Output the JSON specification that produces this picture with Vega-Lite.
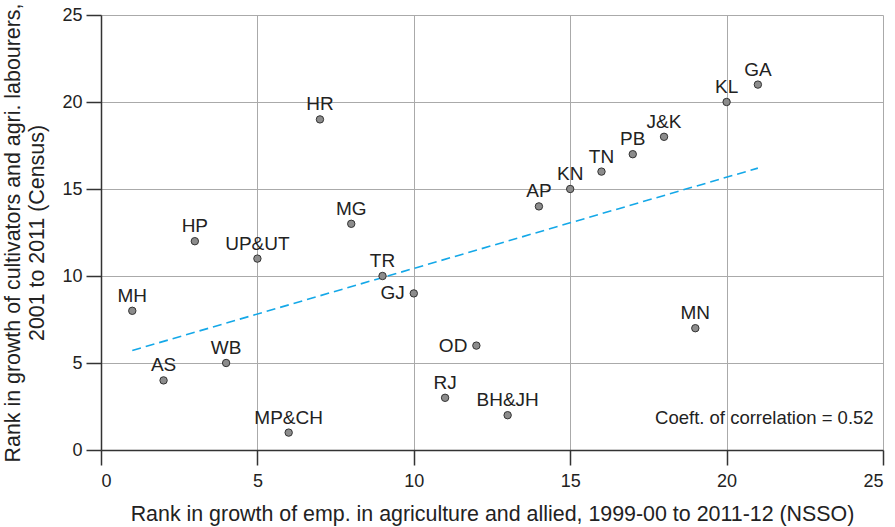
{
  "$schema": "https://vega.github.io/schema/vega-lite/v6.json",
  "autosize": {"type": "none"},
  "width": 782,
  "height": 435,
  "padding": {"left": 101, "top": 15, "right": 12, "bottom": 77},
  "background": "white",
  "config": {
    "view": {"stroke": null},
    "font": "Liberation Sans",
    "axis": {
      "gridColor": "#aaaaaa",
      "gridWidth": 1,
      "domainColor": "#333333",
      "domainWidth": 1.5,
      "tickColor": "#333333",
      "tickWidth": 1.5,
      "tickSize": 15,
      "labelFont": "Liberation Sans",
      "labelFontSize": 18,
      "labelColor": "#222222",
      "titleFont": "Liberation Sans",
      "titleFontSize": 21.4,
      "titleFontWeight": "normal",
      "titleColor": "#222222",
      "titleLineHeight": 24
    }
  },
  "datasets": {
    "states": [
      {"state": "MH", "emp": 1, "cult": 8},
      {"state": "AS", "emp": 2, "cult": 4},
      {"state": "HP", "emp": 3, "cult": 12},
      {"state": "WB", "emp": 4, "cult": 5},
      {"state": "UP&UT", "emp": 5, "cult": 11},
      {"state": "MP&CH", "emp": 6, "cult": 1},
      {"state": "HR", "emp": 7, "cult": 19},
      {"state": "MG", "emp": 8, "cult": 13},
      {"state": "TR", "emp": 9, "cult": 10},
      {"state": "GJ", "emp": 10, "cult": 9},
      {"state": "RJ", "emp": 11, "cult": 3},
      {"state": "OD", "emp": 12, "cult": 6},
      {"state": "BH&JH", "emp": 13, "cult": 2},
      {"state": "AP", "emp": 14, "cult": 14},
      {"state": "KN", "emp": 15, "cult": 15},
      {"state": "TN", "emp": 16, "cult": 16},
      {"state": "PB", "emp": 17, "cult": 17},
      {"state": "J&K", "emp": 18, "cult": 18},
      {"state": "MN", "emp": 19, "cult": 7},
      {"state": "KL", "emp": 20, "cult": 20},
      {"state": "GA", "emp": 21, "cult": 21}
    ],
    "trend": [
      {"emp": 1, "cult": 5.72},
      {"emp": 21, "cult": 16.2}
    ],
    "note": [
      {"emp": 24.7, "cult": 1.84, "text": "Coeft. of correlation = 0.52"}
    ]
  },
  "layer": [
    {
      "data": {"name": "trend"},
      "mark": {"type": "line", "color": "#14a8e8", "strokeWidth": 1.6, "strokeDash": [9, 5]},
      "encoding": {
        "x": {
          "field": "emp", "type": "quantitative",
          "scale": {"domain": [0, 25], "nice": false, "zero": false},
          "axis": {
            "values": [0, 5, 10, 15, 20, 25],
            "title": "Rank in growth of emp. in agriculture and allied, 1999-00 to 2011-12 (NSSO)",
            "labelPadding": 7,
            "titlePadding": 13
          }
        },
        "y": {
          "field": "cult", "type": "quantitative",
          "scale": {"domain": [0, 25], "nice": false, "zero": false},
          "axis": {
            "values": [0, 5, 10, 15, 20, 25],
            "title": ["Rank in growth of cultivators and agri. labourers,", "2001 to 2011 (Census)"],
            "labelPadding": 4,
            "titlePadding": 14
          }
        }
      }
    },
    {
      "data": {"name": "states"},
      "mark": {"type": "point", "filled": true, "fill": "#8c8c8c", "stroke": "#333333", "strokeWidth": 1, "size": 55, "opacity": 1},
      "encoding": {
        "x": {"field": "emp", "type": "quantitative"},
        "y": {"field": "cult", "type": "quantitative"}
      }
    },
    {
      "data": {"name": "states"},
      "transform": [{"filter": "datum.state != 'GJ' && datum.state != 'OD'"}],
      "mark": {"type": "text", "fontSize": 19, "color": "#222222", "dy": -15, "baseline": "middle", "align": "center"},
      "encoding": {
        "x": {"field": "emp", "type": "quantitative"},
        "y": {"field": "cult", "type": "quantitative"},
        "text": {"field": "state"}
      }
    },
    {
      "data": {"name": "states"},
      "transform": [{"filter": "datum.state == 'GJ' || datum.state == 'OD'"}],
      "mark": {"type": "text", "fontSize": 19, "color": "#222222", "dx": -9, "baseline": "middle", "align": "right"},
      "encoding": {
        "x": {"field": "emp", "type": "quantitative"},
        "y": {"field": "cult", "type": "quantitative"},
        "text": {"field": "state"}
      }
    },
    {
      "data": {"name": "note"},
      "mark": {"type": "text", "fontSize": 18.5, "color": "#222222", "baseline": "middle", "align": "right"},
      "encoding": {
        "x": {"field": "emp", "type": "quantitative"},
        "y": {"field": "cult", "type": "quantitative"},
        "text": {"field": "text"}
      }
    }
  ]
}
